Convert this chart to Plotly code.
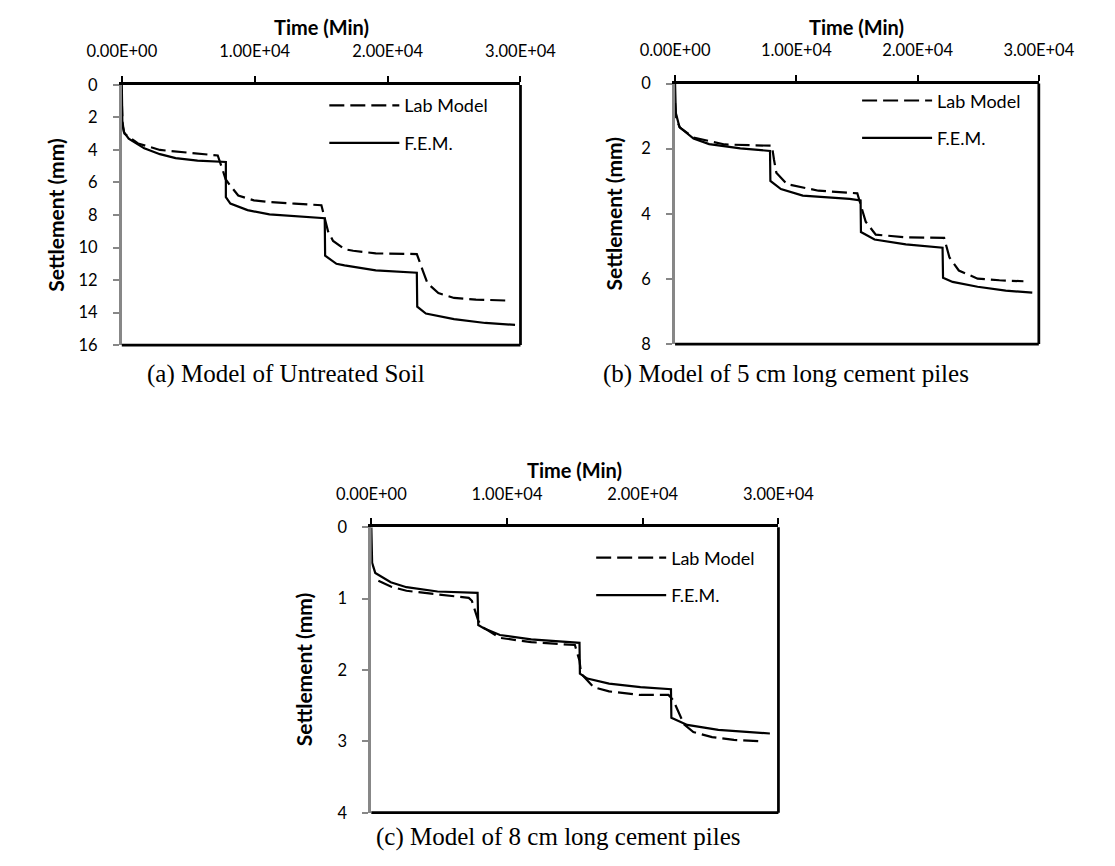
import plotly.graph_objects as go

# ---- settlement vs. time readings (time in minutes, settlement in mm) ----
# (a) untreated soil
a_fem_t = [0, 40, 160, 520, 1690, 2870, 4050, 5700, 7830, 7830, 8170, 9460, 11110, 13200,
           15270, 15300, 16150, 16760, 19110, 22200, 22230, 22880, 25000, 27350, 29590]
a_fem_s = [0, 2.2, 2.9, 3.3, 3.9, 4.26, 4.5, 4.66, 4.74, 6.9, 7.3, 7.7, 7.96, 8.1,
           8.2, 10.5, 11.0, 11.1, 11.4, 11.55, 13.64, 14.06, 14.4, 14.64, 14.76]
a_lab_t = [0, 60, 200, 1220, 2870, 5230, 7220, 7580, 7810, 8170, 8760, 9940, 11110, 13000,
           15020, 15520, 15900, 16760, 17410, 19110, 22200, 22640, 23000, 23820, 25000, 26650, 28950]
a_lab_s = [1.0, 2.5, 3.0, 3.6, 4.0, 4.2, 4.34, 5.2, 5.8, 6.2, 6.8, 7.1, 7.2, 7.3,
           7.4, 9.0, 9.6, 10.1, 10.2, 10.36, 10.4, 11.4, 12.2, 12.8, 13.1, 13.2, 13.26]

# (b) 5 cm long cement piles
b_fem_t = [0, 60, 365, 1520, 2810, 5380, 7830, 7860, 8730, 10530, 14390, 15300, 15330,
           16450, 19030, 22060, 22100, 22890, 24950, 27270, 29460]
b_fem_s = [0, 0.9, 1.34, 1.69, 1.86, 1.99, 2.07, 2.99, 3.24, 3.44, 3.54, 3.59, 4.56,
           4.79, 4.94, 5.04, 5.96, 6.09, 6.24, 6.36, 6.42]
b_lab_t = [0, 100, 400, 1520, 4100, 6670, 7990, 8160, 8350, 9240, 11820, 15030, 15720,
           16550, 19030, 22190, 22630, 23400, 24950, 26750, 28730]
b_lab_s = [0.6, 1.1, 1.35, 1.66, 1.87, 1.91, 1.91, 2.34, 2.74, 3.09, 3.29, 3.37, 4.24,
           4.64, 4.72, 4.74, 5.34, 5.74, 5.99, 6.04, 6.07]

# (c) 8 cm long cement piles
c_fem_t = [0, 60, 290, 1430, 2590, 4880, 7830, 7880, 8330, 9480, 11780, 15110, 15340, 15370,
           15920, 17520, 19830, 22080, 22110, 23280, 25570, 29370]
c_fem_s = [0, 0.5, 0.64, 0.77, 0.84, 0.90, 0.92, 1.37, 1.42, 1.51, 1.57, 1.61, 1.62, 2.05,
           2.12, 2.19, 2.24, 2.27, 2.67, 2.77, 2.84, 2.89]
c_lab_t = [520, 1430, 2590, 4880, 7180, 7410, 7640, 7880, 8210, 9480, 11780, 15000, 15340,
           15460, 16380, 17520, 19830, 21900, 22240, 22540, 23040, 23730, 25110, 26720, 28790]
c_lab_s = [0.75, 0.83, 0.89, 0.94, 0.99, 1.03, 1.17, 1.31, 1.40, 1.55, 1.61, 1.65, 1.87,
           2.05, 2.24, 2.30, 2.35, 2.35, 2.42, 2.55, 2.76, 2.87, 2.94, 2.98, 3.0]

time_ticks = [0, 10000, 20000, 30000]
time_labels = ["0.00E+00", "1.00E+04", "2.00E+04", "3.00E+04"]
series_names = ["Lab Model", "F.E.M."]
captions = ["(a) Model of Untreated Soil", "(b) Model of 5 cm long cement piles",
            "(c) Model of 8 cm long cement piles"]
y_max = [16, 8, 4]
y_step = [2, 2, 1]

# ---- page geometry (pixels) ----
W, H = 1115, 866


def px(x):
    return x / W


def py(y):
    return 1 - y / H


# plot-area boxes: left, right, top, bottom
boxes = [(92.7, 518.5, 76.7, 343.0),
         (683.6, 1072.1, 75.3, 342.0),
         (359.2, 794.0, 529.5, 821.7)]
title_pos = [(305.6, 17.5), (877.8, 17.5), (576.6, 470.7)]
ytitle_pos = [(21.0, 210.0), (618.0, 208.6), (287.5, 675.6)]
caption_pos = [(268.0, 373.0), (802.0, 373.0), (558.5, 847.0)]
legend_pos = [(309.0, 79.0), (878.0, 74.0), (594.0, 542.0)]

TICK_FONT = dict(family="Lato", size=16.5, color="black")
TITLE_FONT = dict(family="Lato", size=20, color="black", weight="bold")
GRAY = "#878787"

fig = go.Figure()

data = [(a_lab_t, a_lab_s, a_fem_t, a_fem_s),
        (b_lab_t, b_lab_s, b_fem_t, b_fem_s),
        (c_lab_t, c_lab_s, c_fem_t, c_fem_s)]

for i, (lt, ls, ft, fs) in enumerate(data):
    n = "" if i == 0 else str(i + 1)
    leg = "legend" if i == 0 else f"legend{i + 1}"
    fig.add_trace(go.Scatter(
        x=lt, y=ls, mode="lines", name=series_names[0],
        line=dict(color="black", width=2.2, dash="15px,6px"),
        xaxis="x" + n, yaxis="y" + n, legend=leg, legendgroup=f"lab{i}"))
    fig.add_trace(go.Scatter(
        x=ft, y=fs, mode="lines", name=series_names[1],
        line=dict(color="black", width=2.2),
        xaxis="x" + n, yaxis="y" + n, legend=leg, legendgroup=f"fem{i}"))

layout = dict(
    width=W, height=H, margin=dict(l=0, r=0, t=0, b=0),
    paper_bgcolor="white", plot_bgcolor="white",
    showlegend=True, annotations=[], shapes=[],
)

for i, (l, r, t, b) in enumerate(boxes):
    n = "" if i == 0 else str(i + 1)
    layout["xaxis" + n] = dict(
        domain=[px(l), px(r)], anchor="y" + n, side="top",
        range=[0, 30000], tickvals=time_ticks, ticktext=time_labels,
        ticks="outside", ticklen=6, tickwidth=2, tickcolor="black",
        showline=True, linecolor="black", linewidth=2.75,
        showgrid=False, zeroline=False, tickfont=TICK_FONT,
        ticklabelstandoff=12,
    )
    layout["yaxis" + n] = dict(
        domain=[py(b), py(t)], anchor="x" + n,
        range=[y_max[i], 0], dtick=y_step[i], tick0=0,
        ticks="outside", ticklen=6, tickwidth=1.5, tickcolor=GRAY,
        showline=True, linecolor=GRAY, linewidth=2.75,
        showgrid=False, zeroline=False, tickfont=TICK_FONT,
        ticklabelstandoff=12,
    )
    # right and bottom edges of the plot frame
    xd, yd = "x" + n + " domain", "y" + n + " domain"
    layout["shapes"].append(dict(type="line", xref=xd, yref=yd, x0=1, x1=1, y0=0, y1=1,
                                 line=dict(color="black", width=2.75)))
    layout["shapes"].append(dict(type="line", xref=xd, yref=yd, x0=0, x1=1, y0=0, y1=0,
                                 line=dict(color="black", width=2.75)))
    tx, ty = title_pos[i]
    layout["annotations"].append(dict(text="Time (Min)", x=px(tx), y=py(ty), xref="paper",
                                      yref="paper", showarrow=False, font=TITLE_FONT,
                                      xanchor="center", yanchor="middle"))
    yx, yy = ytitle_pos[i]
    layout["annotations"].append(dict(text="Settlement (mm)", x=px(yx), y=py(yy),
                                      xref="paper", yref="paper", showarrow=False,
                                      textangle=-90, font=dict(TITLE_FONT, size=21),
                                      xanchor="center", yanchor="middle"))
    cx, cy = caption_pos[i]
    layout["annotations"].append(dict(text=captions[i], x=px(cx), y=py(cy), xref="paper",
                                      yref="paper", showarrow=False,
                                      font=dict(family="Liberation Serif", size=25,
                                                color="black"),
                                      xanchor="center", yanchor="middle"))
    lx, ly = legend_pos[i]
    key = "legend" if i == 0 else f"legend{i + 1}"
    layout[key] = dict(x=px(lx), y=py(ly), xanchor="left", yanchor="top",
                       bgcolor="rgba(0,0,0,0)", borderwidth=0,
                       font=dict(family="Lato", size=18, color="black"),
                       itemwidth=70, tracegroupgap=11, traceorder="grouped")

fig.update_layout(**layout)
fig.write_html("out.html")
